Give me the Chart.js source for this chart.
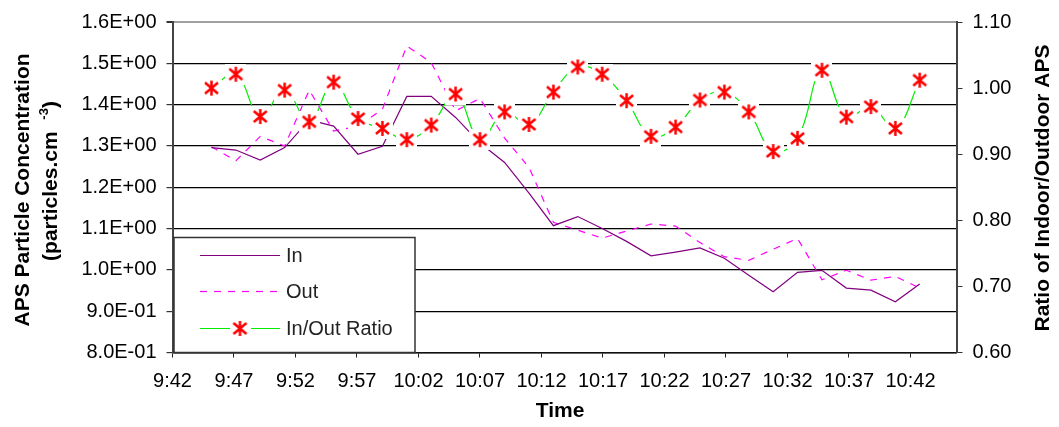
<!DOCTYPE html>
<html>
<head>
<meta charset="utf-8">
<script src="https://cdn.jsdelivr.net/npm/chart.js@4.4.1/dist/chart.umd.min.js"></script>
<style>
html,body{margin:0;padding:0;background:#fff;}
#wrap{position:relative;width:1059px;height:427px;}
canvas{display:block;}
</style>
</head>
<body>
<div id="wrap"><canvas id="c" width="1059" height="427"></canvas></div>
<script>
// ---- data ----
const times = ['9:45:10','9:47:09','9:49:08','9:51:07','9:53:07','9:55:06','9:57:05','9:59:04','10:01:03','10:03:02',
               '10:05:01','10:07:00','10:09:00','10:10:59','10:12:58','10:14:57','10:16:56','10:18:55','10:20:54','10:22:54',
               '10:24:53','10:26:52','10:28:51','10:30:50','10:32:49','10:34:48','10:36:47','10:38:47','10:40:46','10:42:45'];
const inConc = [1.296,1.290,1.266,1.296,1.363,1.348,1.280,1.299,1.420,1.420,
                1.369,1.307,1.260,1.186,1.107,1.129,1.100,1.069,1.034,1.043,
                1.053,1.028,0.987,0.947,0.994,0.999,0.956,0.951,0.923,0.966];
const outConc = [1.298,1.264,1.323,1.300,1.435,1.336,1.348,1.389,1.542,1.502,
                 1.385,1.415,1.319,1.248,1.115,1.096,1.077,1.094,1.111,1.106,
                 1.066,1.032,1.023,1.050,1.076,0.976,0.999,0.975,0.984,0.956];
const ratio = [1.000,1.021,0.957,0.997,0.949,1.009,0.954,0.939,0.922,0.944,
               0.991,0.922,0.964,0.945,0.994,1.032,1.021,0.981,0.927,0.941,
               0.982,0.994,0.964,0.904,0.924,1.027,0.956,0.972,0.939,1.012];
const xTickLabels = ['9:42','9:47','9:52','9:57','10:02','10:07','10:12','10:17','10:22','10:27','10:32','10:37','10:42'];
const seriesNames = ['In','Out','In/Out Ratio'];
const leftTitle = ['APS Particle Concentration', '(particles.cm  ', '-3', ')'];
const rightTitle = 'Ratio of Indoor/Outdoor APS';
const xTitle = 'Time';

// ---- helpers ----
function toMin(s){const p=s.split(':').map(Number);return p[0]*60+p[1]+(p[2]||0)/60;}
function fmtMin(v){const h=Math.floor(v/60);const m=Math.round(v-h*60);return h+':'+String(m).padStart(2,'0');}
function sci(v){let s=v.toExponential(1).toUpperCase();return s.replace(/E([+-])(\d)$/,'E$10$2');}
const xs = times.map(toMin);
const xTickVals = xTickLabels.map(toMin);

// asterisk marker with white backing square
function makeMarker(){
  const c=document.createElement('canvas');c.width=21;c.height=21;
  const g=c.getContext('2d');
  g.fillStyle='#fff';g.fillRect(0,0,21,21);
  g.strokeStyle='#ff0000';g.lineWidth=2.5;g.lineCap='butt';
  g.beginPath();
  g.moveTo(10.5,3);g.lineTo(10.5,18);
  g.moveTo(4,5);g.lineTo(17,16);
  g.moveTo(4,16);g.lineTo(17,5);
  g.stroke();
  return c;
}
const marker = makeMarker();

const FONT = "'Liberation Sans', Arial, sans-serif";

const titlesAndLegend = {
  id:'titlesAndLegend',
  afterDraw(chart){
    const {ctx, chartArea:ca} = chart;
    ctx.save();
    ctx.fillStyle='#000';
    // left title
    ctx.save();
    ctx.translate(23, 190);
    ctx.rotate(-Math.PI/2);
    ctx.font = 'bold 21px '+FONT;
    ctx.textAlign='center';ctx.textBaseline='middle';
    ctx.fillText(leftTitle[0],0,0);
    ctx.restore();
    ctx.save();
    ctx.translate(51.5, 181);
    ctx.rotate(-Math.PI/2);
    ctx.textBaseline='middle';ctx.textAlign='left';
    ctx.font='bold 21px '+FONT; const w1=ctx.measureText(leftTitle[1]).width; const w3=ctx.measureText(leftTitle[3]).width;
    ctx.font='bold 13px '+FONT; const w2=ctx.measureText(leftTitle[2]).width;
    let x0=-(w1+w2+w3)/2;
    ctx.font='bold 21px '+FONT; ctx.fillText(leftTitle[1],x0,0);
    ctx.font='bold 13px '+FONT; ctx.fillText(leftTitle[2],x0+w1,-7);
    ctx.font='bold 21px '+FONT; ctx.fillText(leftTitle[3],x0+w1+w2,0);
    ctx.restore();
    // right title
    ctx.save();
    ctx.translate(1043, 188);
    ctx.rotate(-Math.PI/2);
    ctx.font='bold 21px '+FONT;ctx.textAlign='center';ctx.textBaseline='middle';
    ctx.fillText(rightTitle,0,0);
    ctx.restore();
    // x title
    ctx.font='bold 21px '+FONT;ctx.textAlign='center';ctx.textBaseline='middle';
    ctx.fillText(xTitle,560,411);

    // legend box
    const lx=ca.left+1.5, ly=237.5, lw=241, lh=ca.bottom-ly;
    ctx.fillStyle='#fff';ctx.fillRect(lx,ly,lw,lh);
    ctx.strokeStyle='#333';ctx.lineWidth=1.5;ctx.strokeRect(lx,ly,lw,lh);
    const ds=chart.data.datasets;
    const rows=[255.5,291.5,328.5];
    const lineX0=lx+26, lineX1=lx+106;
    ctx.font='20px '+FONT;ctx.textAlign='left';ctx.textBaseline='middle';
    [0,1,2].forEach(i=>{
      const d=ds[i], y=rows[i];
      ctx.save();
      ctx.strokeStyle=d.borderColor;ctx.lineWidth=d.borderWidth;
      ctx.setLineDash(d.borderDash||[]);
      ctx.beginPath();ctx.moveTo(lineX0,y);ctx.lineTo(lineX1,y);ctx.stroke();
      ctx.restore();
      if(i===2){ctx.drawImage(marker,lx+66-10.5,y-10.5);}
      ctx.fillStyle='#222';
      ctx.fillText(d.label,lx+112,y+1);
    });
    ctx.restore();
  }
};

const ptsIn = xs.map((x,i)=>({x, y:inConc[i]}));
const ptsOut = xs.map((x,i)=>({x, y:outConc[i]}));
const ptsRatio = xs.map((x,i)=>({x, y:ratio[i]}));

new Chart(document.getElementById('c'), {
  type:'line',
  data:{
    datasets:[
      {label:seriesNames[0], data:ptsIn, borderColor:'#800080', borderWidth:1.2, pointRadius:0, tension:0, yAxisID:'y', order:2},
      {label:seriesNames[1], data:ptsOut, borderColor:'#ff00ff', borderWidth:1.2, borderDash:[7,7], pointRadius:0, tension:0, yAxisID:'y', order:3},
      {label:seriesNames[2], data:ptsRatio, borderColor:'#00ee00', borderWidth:1.2, pointStyle:marker, pointRadius:10, pointHoverRadius:10, tension:0.4, yAxisID:'y1', order:1}
    ]
  },
  options:{
    responsive:false, animation:false, devicePixelRatio:1,
    layout:{padding:{top:21,left:0,right:0,bottom:0}},
    plugins:{legend:{display:false}, tooltip:{enabled:false}},
    scales:{
      x:{
        type:'linear', min:582, max:645.74,
        afterBuildTicks(s){ s.ticks = xTickVals.map(v=>({value:v})); },
        afterFit(s){ s.height = 74.5; },
        ticks:{ callback:(v)=>fmtMin(v), color:'#000', font:{family:FONT,size:20}, padding:12, maxRotation:0, autoSkip:false },
        grid:{ drawOnChartArea:false, tickLength:5, tickColor:'#222', lineWidth:1 },
        border:{ color:'#111', width:1.5 }
      },
      y:{
        position:'left', min:0.8, max:1.6,
        afterFit(s){ s.width = 172.5; },
        ticks:{ stepSize:0.1, callback:(v)=>sci(v), color:'#000', font:{family:FONT,size:20}, padding:10 },
        grid:{
          color:(c)=> (c.tick && Math.abs(c.tick.value-1.6)<1e-6) ? '#a0a0a0' : '#000',
          lineWidth:(c)=> (c.tick && Math.abs(c.tick.value-1.6)<1e-6) ? 2 : 1.2,
          tickLength:6, tickColor:'#333'
        },
        border:{ color:'#444', width:2 }
      },
      y1:{
        position:'right', min:0.6, max:1.1,
        afterFit(s){ s.width = 102.5; },
        ticks:{ stepSize:0.1, callback:(v)=>v.toFixed(2), color:'#000', font:{family:FONT,size:20}, padding:10 },
        grid:{ drawOnChartArea:false, tickLength:6, tickColor:'#333' },
        border:{ color:'#444', width:2 }
      }
    }
  },
  plugins:[titlesAndLegend]
});
</script>
</body>
</html>
